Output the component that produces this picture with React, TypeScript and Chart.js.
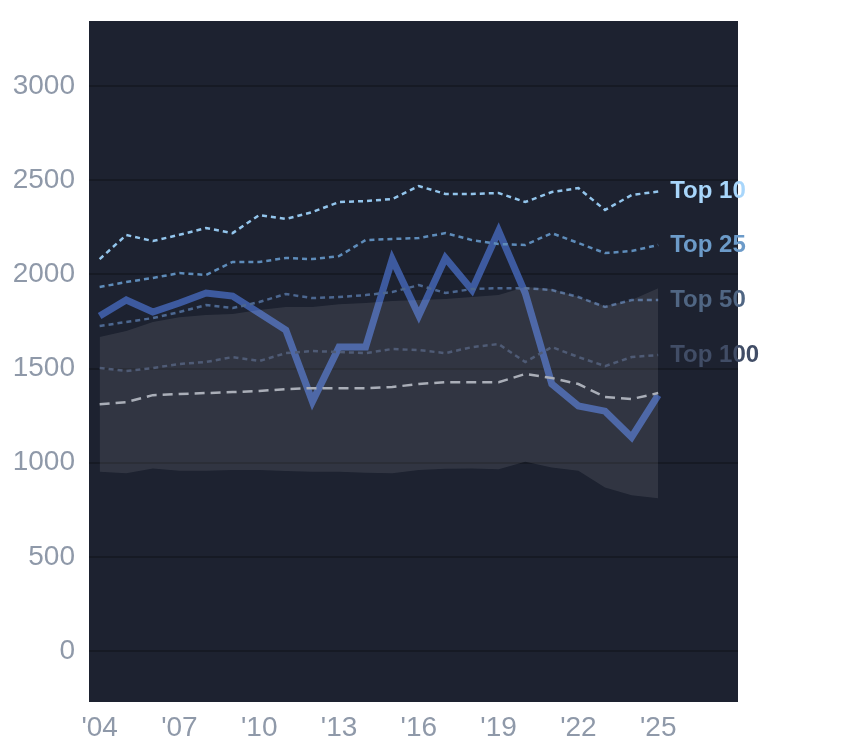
import { useEffect, useRef } from "react";
import Chart from "chart.js/auto";

const years = [
  2004, 2005, 2006, 2007, 2008, 2009, 2010, 2011, 2012, 2013, 2014,
  2015, 2016, 2017, 2018, 2019, 2020, 2021, 2022, 2023, 2024, 2025,
];

const mainSeries = [
  1779, 1864, 1800, 1848, 1901, 1885, 1795, 1704, 1325, 1614, 1614,
  2080, 1782, 2087, 1917, 2230, 1901, 1418, 1301, 1274, 1136, 1359,
];

const top10 = [
  2081, 2209, 2177, 2210, 2246, 2219, 2315, 2294, 2331, 2384, 2389,
  2400, 2469, 2427, 2427, 2432, 2384, 2437, 2458, 2342, 2421, 2440,
];

const top25 = [
  1933, 1959, 1981, 2007, 1997, 2066, 2066, 2087, 2081, 2097, 2182,
  2188, 2193, 2219, 2182, 2161, 2156, 2219, 2166, 2113, 2124, 2156,
];

const top50 = [
  1726, 1747, 1768, 1800, 1837, 1821, 1853, 1896, 1874, 1880, 1890,
  1906, 1943, 1901, 1922, 1927, 1927, 1917, 1880, 1827, 1864, 1864,
];

const top100 = [
  1503, 1487, 1503, 1524, 1535, 1561, 1540, 1582, 1593, 1588, 1582,
  1604, 1598, 1582, 1614, 1630, 1535, 1614, 1561, 1513, 1561, 1572,
];

const baseline = [
  1311, 1322, 1359, 1365, 1370, 1375, 1381, 1391, 1396, 1396, 1396,
  1402, 1418, 1428, 1428, 1428, 1471, 1450, 1418, 1349, 1338, 1370,
];

const bandHigh = [
  1667, 1699, 1747, 1773, 1784, 1789, 1811, 1827, 1827, 1842, 1848,
  1858, 1864, 1869, 1880, 1890, 1933, 1922, 1880, 1832, 1864, 1927,
];

const bandLow = [
  952, 944, 970, 957, 957, 961, 961, 956, 952, 952, 947,
  944, 961, 968, 970, 966, 1005, 975, 957, 869, 828, 811,
];

const xTicks = [2004, 2007, 2010, 2013, 2016, 2019, 2022, 2025];
const yTicks = [0, 500, 1000, 1500, 2000, 2500, 3000];

const FONT = "'Liberation Sans', Arial, sans-serif";

const pts = (vals: number[]) => years.map((y, i) => ({ x: y, y: vals[i] }));

// plot background
const bgPlugin = {
  id: "plotBg",
  beforeDraw(chart: any) {
    const { ctx, chartArea } = chart;
    ctx.save();
    ctx.fillStyle = "#1d2230";
    ctx.fillRect(chartArea.left, chartArea.top, chartArea.width, chartArea.height);
    ctx.restore();
  },
};

// "Top N" labels at the end of each line
const endLabels = {
  id: "endLabels",
  afterDatasetsDraw(chart: any) {
    const { ctx } = chart;
    ctx.save();
    ctx.font = `bold 24px ${FONT}`;
    ctx.textBaseline = "middle";
    ctx.textAlign = "left";
    chart.data.datasets.forEach((ds: any, i: number) => {
      if (!ds.endLabel) return;
      const meta = chart.getDatasetMeta(i);
      const last = meta.data[meta.data.length - 1];
      ctx.fillStyle = ds.labelColor;
      ctx.fillText(ds.endLabel, last.x + 12, last.y);
    });
    ctx.restore();
  },
};

export default function App() {
  const canvasRef = useRef<HTMLCanvasElement | null>(null);
  const chartRef = useRef<Chart | null>(null);

  useEffect(() => {
    if (!canvasRef.current) return;
    if (chartRef.current) chartRef.current.destroy();

    const dotted = (label: string, data: number[], color: string, labelColor: string) => ({
      label,
      data: pts(data),
      borderColor: color,
      borderWidth: 2.5,
      borderDash: [5, 4],
      pointRadius: 0,
      fill: false,
      endLabel: label,
      labelColor,
    });

    chartRef.current = new Chart(canvasRef.current, {
      type: "line",
      data: {
        datasets: [
          {
            label: "low",
            data: pts(bandLow),
            borderWidth: 0,
            borderColor: "transparent",
            pointRadius: 0,
            fill: false,
          },
          {
            label: "high",
            data: pts(bandHigh),
            borderWidth: 0,
            borderColor: "transparent",
            backgroundColor: "rgba(255,255,255,0.09)",
            pointRadius: 0,
            fill: "-1",
          },
          {
            label: "baseline",
            data: pts(baseline),
            borderColor: "#a2a7b1",
            borderWidth: 2.5,
            borderDash: [10, 6],
            pointRadius: 0,
            fill: false,
          },
          dotted("Top 100", top100, "#3e4b68", "#414d66"),
          dotted("Top 50", top50, "#4c6790", "#506683"),
          dotted("Top 25", top25, "#5e8cba", "#6c9bc9"),
          dotted("Top 10", top10, "#93c5ec", "#a8d6fb"),
          {
            label: "main",
            data: pts(mainSeries),
            borderColor: "#3d5a9f",
            borderWidth: 7,
            pointRadius: 0,
            fill: false,
          },
        ] as any,
      },
      options: {
        animation: false,
        responsive: false,
        maintainAspectRatio: false,
        layout: { padding: { top: 13, right: 98, left: 0, bottom: 0 } },
        plugins: {
          legend: { display: false },
          tooltip: { enabled: false },
        },
        scales: {
          x: {
            type: "linear",
            min: 2003.6,
            max: 2028,
            grid: { display: false },
            border: { display: false },
            afterBuildTicks: (axis: any) => {
              axis.ticks = xTicks.map((v) => ({ value: v }));
            },
            afterFit: (axis: any) => {
              axis.height = 38;
            },
            ticks: {
              padding: 1,
              color: "#8f99a9",
              font: { family: FONT, size: 28 },
              maxRotation: 0,
              autoSkip: false,
              callback: (v: any) => "'" + String(v).slice(2),
            },
          },
          y: {
            min: -270,
            max: 3345,
            grid: { color: "#161a24", lineWidth: 2, drawTicks: false },
            border: { display: false },
            afterBuildTicks: (axis: any) => {
              axis.ticks = yTicks.map((v) => ({ value: v }));
            },
            afterFit: (axis: any) => {
              axis.width = 81;
              axis.paddingTop = 0;
              axis.paddingBottom = 0;
            },
            ticks: {
              padding: 14,
              color: "#8f99a9",
              font: { family: FONT, size: 28 },
              callback: (v: any) => String(v),
            },
          },
        },
      } as any,
      plugins: [bgPlugin, endLabels],
    });

    return () => {
      chartRef.current?.destroy();
      chartRef.current = null;
    };
  }, []);

  return (
    <div style={{ width: 828, height: 732 }}>
      <canvas ref={canvasRef} width={828} height={732} style={{ display: "block" }} />
    </div>
  );
}
